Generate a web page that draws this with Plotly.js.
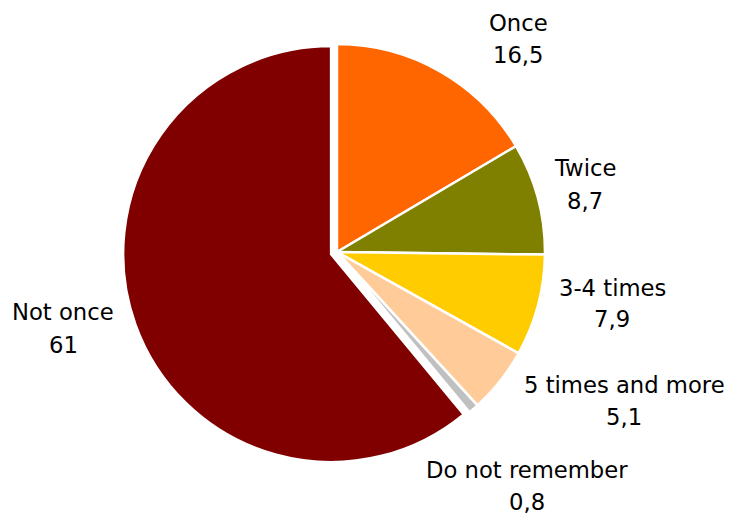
<!DOCTYPE html>
<html>
<head>
<meta charset="utf-8">
<script src="https://cdn.plot.ly/plotly-3.0.1.min.js"></script>
<style>html,body{margin:0;padding:0;background:#fff;}#chart{width:729px;height:516px;}</style>
</head>
<body>
<div id="chart"></div>
<script>
var labels = ["Once", "Twice", "3-4 times", "5 times and more", "Do not remember", "Not once"];
var values = [16.5, 8.7, 7.9, 5.1, 0.8, 61];
var colors = ["#FF6600", "#808000", "#FFCC00", "#FFCC99", "#C0C0C0", "#800000"];
var pulls = [0, 0, 0, 0, 0, 0.03];

// label placement (pixel centres of the name line and value line)
var labelX = [518, 585, 612, 624, 527, 63];
var nameY = [23, 168, 288, 385, 470, 312];
var valueY = [55, 201, 319, 417, 502, 345];

var W = 729, H = 516;
var FONT = "DejaVu Sans, Verdana, sans-serif";
var FS = 22.7;

var valueText = values.map(function (v) { return String(v).replace(".", ","); });

var trace = {
  type: "pie",
  labels: labels,
  values: values,
  textinfo: "none",
  marker: {colors: colors, line: {color: "#ffffff", width: 2.5}},
  pull: pulls,
  sort: false,
  direction: "clockwise",
  rotation: 0,
  showlegend: false,
  automargin: false,
  domain: {x: [0.1684, 0.7561], y: [0.0965, 0.9268]}
};

var annotations = [];
labels.forEach(function (lab, i) {
  annotations.push({
    xref: "paper", yref: "paper", x: labelX[i] / W, y: 1 - nameY[i] / H,
    xanchor: "center", yanchor: "middle", showarrow: false, borderpad: 0,
    text: lab, font: {family: FONT, size: FS, color: "#000"}
  });
  annotations.push({
    xref: "paper", yref: "paper", x: labelX[i] / W, y: 1 - valueY[i] / H,
    xanchor: "center", yanchor: "middle", showarrow: false, borderpad: 0,
    text: valueText[i], font: {family: FONT, size: FS, color: "#000"}
  });
});

var layout = {
  width: W,
  height: H,
  margin: {l: 0, r: 0, t: 0, b: 0},
  paper_bgcolor: "#ffffff",
  showlegend: false,
  font: {family: FONT, size: FS, color: "#000"},
  annotations: annotations
};

Plotly.newPlot("chart", [trace], layout, {displayModeBar: false, staticPlot: true});
</script>
</body>
</html>
